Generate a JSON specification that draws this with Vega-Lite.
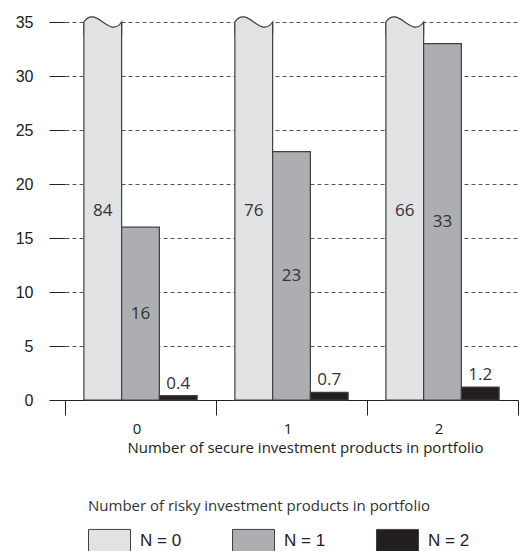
{
  "$schema": "https://vega.github.io/schema/vega-lite/v6.json",
  "width": 453,
  "height": 378,
  "autosize": "none",
  "padding": {"left": 65, "top": 22, "right": 13, "bottom": 151},
  "background": "white",
  "config": {"view": {"stroke": null}},
  "data": {"values": [
    {"secure": "0", "risky": "N = 0", "value": 84},
    {"secure": "0", "risky": "N = 1", "value": 16},
    {"secure": "0", "risky": "N = 2", "value": 0.4},
    {"secure": "1", "risky": "N = 0", "value": 76},
    {"secure": "1", "risky": "N = 1", "value": 23},
    {"secure": "1", "risky": "N = 2", "value": 0.7},
    {"secure": "2", "risky": "N = 0", "value": 66},
    {"secure": "2", "risky": "N = 1", "value": 33},
    {"secure": "2", "risky": "N = 2", "value": 1.2}
  ]},
  "transform": [{"calculate": "min(datum.value, 35) / 2", "as": "mid"}],
  "encoding": {
    "x": {
      "field": "secure", "type": "nominal",
      "scale": {"paddingInner": 0, "paddingOuter": 0},
      "axis": {
        "title": "Number of secure investment products in portfolio",
        "labelAngle": 0, "tickBand": "extent", "tickSize": 15,
        "tickColor": "#222", "domainColor": "#222", "domainWidth": 1, "tickWidth": 1,
        "labelFont": "Open Sans", "labelFontSize": 15, "labelColor": "#222",
        "labelPadding": 6, "labelOffset": -4,
        "titleFont": "Open Sans", "titleFontSize": 15, "titleFontWeight": "normal",
        "titleColor": "#222", "titlePadding": 4, "titleX": 240, "titleAlign": "center",
        "grid": false
      }
    },
    "xOffset": {"field": "risky", "type": "nominal", "scale": {"paddingInner": 0, "paddingOuter": 0.5}}
  },
  "layer": [
    {
      "mark": {"type": "bar", "stroke": "#404040", "strokeWidth": 1.2},
      "encoding": {
        "y": {
          "field": "value", "type": "quantitative",
          "scale": {"domain": [0, 35], "clamp": true, "nice": false},
          "axis": {
            "title": null, "values": [0, 5, 10, 15, 20, 25, 30, 35],
            "tickSize": 16, "tickColor": "#222", "tickWidth": 1, "domain": false,
            "labelFont": "Liberation Sans", "labelFontSize": 16, "labelColor": "#222",
            "labelPadding": 16, "grid": true, "gridDash": [4, 3],
            "gridColor": "#555", "gridWidth": 1
          }
        },
        "fill": {
          "field": "risky", "type": "nominal",
          "scale": {"range": ["#e1e2e4", "#adaeb1", "#231f20"]},
          "legend": {
            "orient": "none", "legendX": 23, "legendY": 477,
            "direction": "horizontal", "columns": 3,
            "title": "Number of risky investment products in portfolio",
            "titleFont": "Open Sans", "titleFontSize": 15, "titleFontWeight": "normal",
            "titleColor": "#333", "titlePadding": 5, "titleLimit": 500,
            "symbolType": "M-1,-0.55H1V0.55H-1Z", "symbolSize": 1764,
            "symbolStrokeColor": "#404040", "symbolStrokeWidth": 1, "symbolOpacity": 1,
            "labelFont": "Liberation Sans", "labelFontSize": 17, "labelColor": "#222",
            "labelOffset": 9, "columnPadding": 48
          }
        }
      }
    },
    {
      "transform": [{"filter": "datum.value > 35"}],
      "mark": {
        "type": "point", "shape": "M-1.06,0L-1,0C-0.35,-0.95 0.35,0.95 1,0L1.06,0L1.06,-1L-1.06,-1Z",
        "size": 1425, "filled": true, "fill": "white", "strokeWidth": 0, "opacity": 1
      },
      "encoding": {"y": {"field": "value", "type": "quantitative"}}
    },
    {
      "transform": [{"filter": "datum.value > 35"}],
      "mark": {
        "type": "point", "shape": "M-1,0.7L-1,0C-0.35,-0.95 0.35,0.95 1,0L1,0.7",
        "size": 1425, "filled": true, "fill": "#e1e2e4", "stroke": "#404040",
        "strokeWidth": 1.2, "opacity": 1
      },
      "encoding": {"y": {"field": "value", "type": "quantitative"}}
    },
    {
      "transform": [{"filter": "datum.risky != 'N = 2'"}],
      "mark": {"type": "text", "font": "Open Sans", "fontSize": 17, "color": "#333", "baseline": "middle"},
      "encoding": {
        "y": {"field": "mid", "type": "quantitative"},
        "text": {"field": "value", "type": "quantitative"}
      }
    },
    {
      "transform": [{"filter": "datum.risky == 'N = 2'"}],
      "mark": {"type": "text", "font": "Open Sans", "fontSize": 17, "color": "#333", "baseline": "bottom", "dy": -3},
      "encoding": {
        "y": {"field": "value", "type": "quantitative"},
        "text": {"field": "value", "type": "quantitative"}
      }
    }
  ]
}
